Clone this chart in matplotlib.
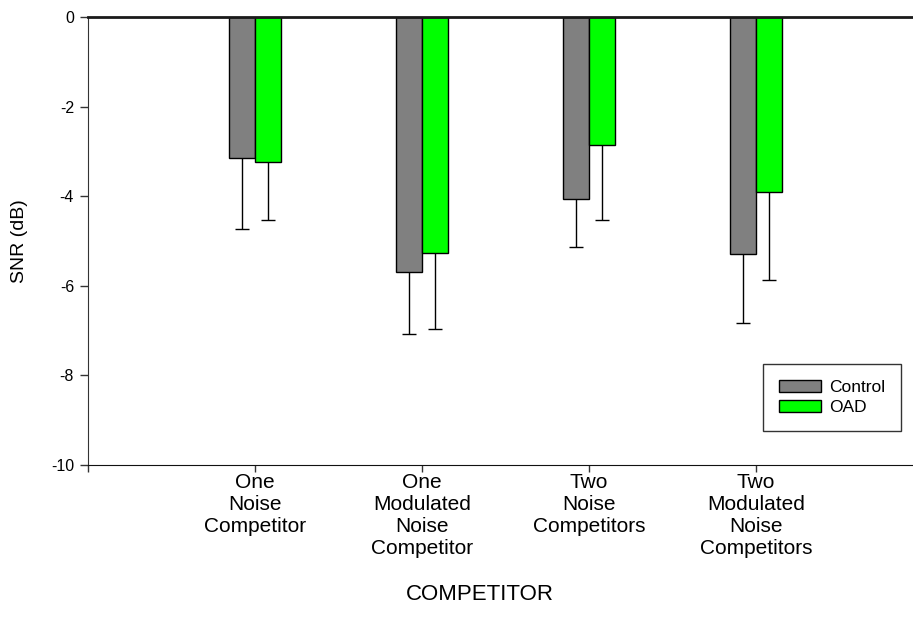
import matplotlib
matplotlib.use("Agg")
import matplotlib.pyplot as plt
import numpy as np

plt.rcParams['font.family'] = ['Liberation Sans', 'DejaVu Sans']

categories = ["One\nNoise\nCompetitor", "One\nModulated\nNoise\nCompetitor",
              "Two\nNoise\nCompetitors", "Two\nModulated\nNoise\nCompetitors"]
control = [-3.15, -5.70, -4.07, -5.28]
control_err = [1.58, 1.37, 1.07, 1.56]
oad = [-3.23, -5.27, -2.85, -3.91]
oad_err = [1.30, 1.70, 1.68, 1.95]
yticks = [0, -2, -4, -6, -8, -10]

W, H = 913, 627
fig = plt.figure(figsize=(W/100, H/100), dpi=100)
L, R, T, B = 88, 913, 17, 465
ax = fig.add_axes([L/W, 1 - B/H, (R-L)/W, (B-T)/H])

x = np.arange(1, len(categories) + 1)
bw = 0.156
ax.bar(x - bw/2, control, bw, color='#808080', edgecolor='black', linewidth=1, label='Control', zorder=2)
ax.bar(x + bw/2, oad, bw, color='#00ff00', edgecolor='black', linewidth=1, label='OAD', zorder=2)

for xs, vals, errs in [(x - bw/2, control, control_err), (x + bw/2, oad, oad_err)]:
    eb = ax.errorbar(xs, vals, yerr=[errs, [0]*len(errs)], fmt='none', ecolor='black',
                     elinewidth=1, capsize=5.2, capthick=1, zorder=1)
    caps = eb[1]
    if len(caps) > 1:
        caps[1].set_visible(False)

ax.set_xlim(0, (R - L) / 167.0)
ax.set_ylim(-10, 0)
ax.set_yticks(yticks)
ax.set_yticklabels([str(v) for v in yticks], fontsize=11.5)
ax.set_xticks([0] + list(x))
ax.set_xticklabels([''] + categories, fontsize=15, linespacing=1.2)

ax.spines['right'].set_visible(False)
ax.spines['top'].set_linewidth(2)
ax.spines['top'].set_color('#1a1a1a')
ax.spines['left'].set_color('#333333')
ax.spines['bottom'].set_color('#111111')
ax.tick_params(axis='y', direction='out', length=6, width=1, pad=4, colors='#333333', labelcolor='black')
ax.tick_params(axis='x', direction='out', length=5, width=1, pad=1, colors='#333333', labelcolor='black')

ax.set_ylabel('SNR (dB)', fontsize=14)
ax.yaxis.set_label_coords((28 - L) / (R - L), 0.5)
ax.set_xlabel('COMPETITOR', fontsize=16)
ax.xaxis.set_label_coords((480 - L) / (R - L), -(584 - B) / (B - T))

leg = ax.legend(loc='upper right', bbox_to_anchor=(901/W, 1 - 364/H), bbox_transform=fig.transFigure,
                fontsize=12.5, frameon=True, fancybox=False, handlelength=2.4, handleheight=0.7,
                handletextpad=0.5, borderpad=0.9, labelspacing=0.3, borderaxespad=0)
leg.get_frame().set_edgecolor('black')
leg.get_frame().set_linewidth(1)

fig.savefig('out.png', dpi=100)
